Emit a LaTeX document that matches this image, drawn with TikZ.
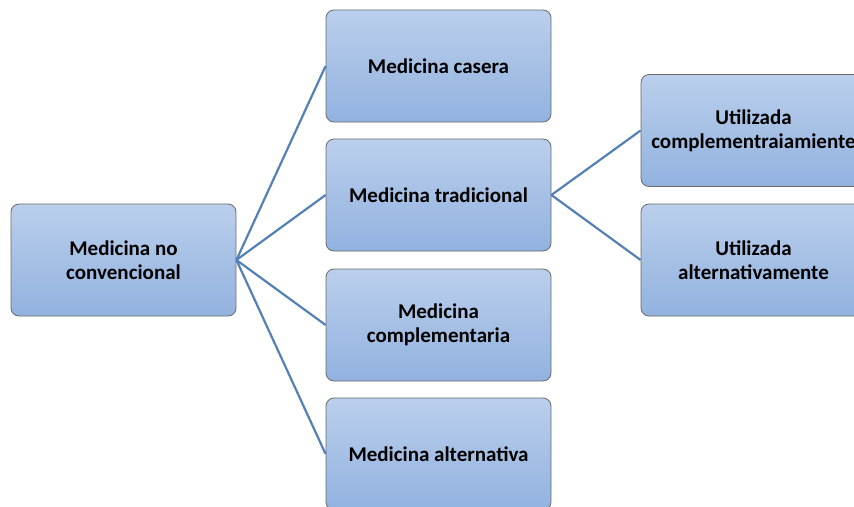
\documentclass[tikz,border=0pt]{standalone}
\usepackage{fontspec}
\setmainfont{Carlito}
\definecolor{topc}{RGB}{186,207,236}
\definecolor{botc}{RGB}{146,178,223}
\definecolor{edgec}{RGB}{105,105,105}
\definecolor{linec}{RGB}{84,128,182}
\tikzset{
  box/.style={draw=edgec, line width=0.8pt, rounded corners=8pt, top color=topc, bottom color=botc,
    minimum width=225pt, minimum height=112pt, align=center, inner sep=2pt,
    font=\fontsize{21}{24}\selectfont\bfseries},
  conn/.style={draw=linec, line width=2.2pt}
}
\begin{document}
\begin{tikzpicture}[x=1pt,y=-1pt]
\useasboundingbox (0,0) rectangle (854,506);
\clip (0,0) rectangle (854,506);
\node[box] (root) at (123.5,260) {Medicina no\\convencional};
\node[box] (casera) at (438.5,66) {Medicina casera};
\node[box] (trad) at (438.5,195) {Medicina tradicional};
\node[box] (comp) at (438.5,325) {Medicina\\complementaria};
\node[box] (alt) at (438.5,454) {Medicina alternativa};
\node[box] (ucomp) at (753.5,130.5) {Utilizada\\complementraiamiente};
\node[box] (ualt) at (753.5,260) {Utilizada\\alternativamente};
\draw[conn] (root.east) -- (casera.west);
\draw[conn] (root.east) -- (trad.west);
\draw[conn] (root.east) -- (comp.west);
\draw[conn] (root.east) -- (alt.west);
\draw[conn] (trad.east) -- (ucomp.west);
\draw[conn] (trad.east) -- (ualt.west);
\end{tikzpicture}
\end{document}
